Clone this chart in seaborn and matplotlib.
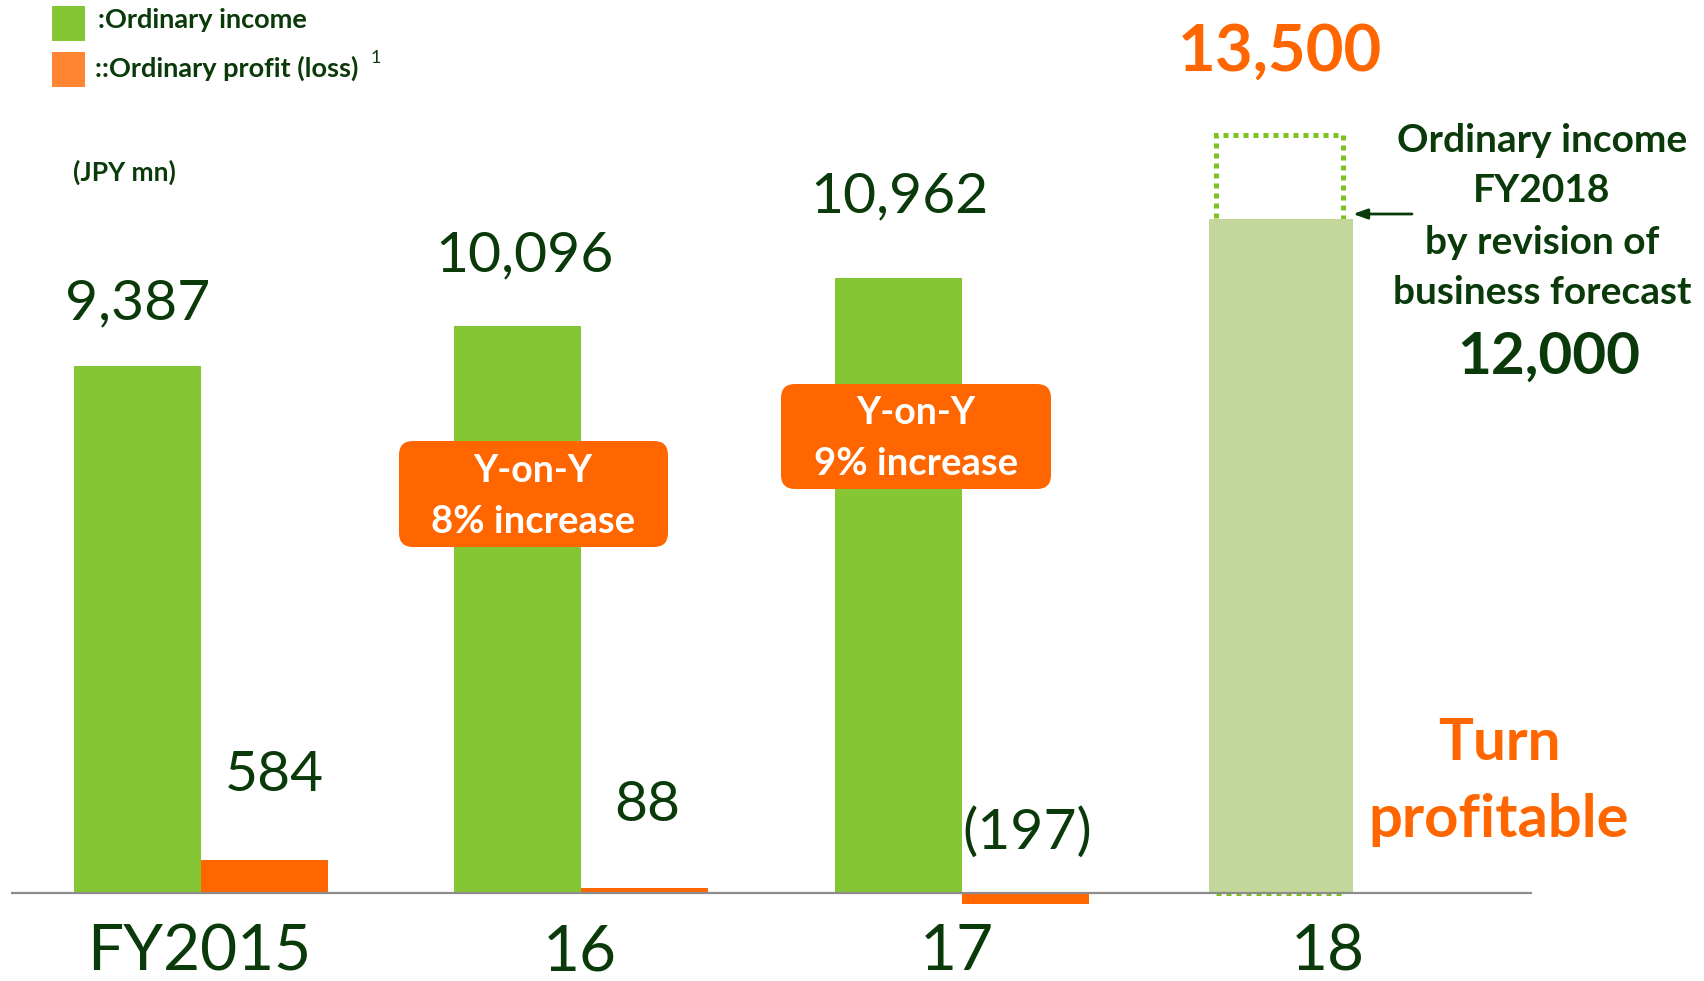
import matplotlib
matplotlib.use("Agg")
import matplotlib.pyplot as plt
from matplotlib.patches import FancyBboxPatch, Rectangle
from matplotlib.transforms import IdentityTransform
import seaborn as sns
import pandas as pd

# ---------------- data ----------------
years = ["FY2015", "16", "17", "18"]
income = [9387, 10096, 10962]          # ordinary income FY2015-17
profit = [584, 88, -197]               # ordinary profit (loss) FY2015-17
income_labels = ["9,387", "10,096", "10,962"]
profit_labels = ["584", "88", "(197)"]
fy18_original_forecast = 13500
fy18_revised_forecast = 12000
yoy_texts = ["Y-on-Y\n8% increase", "Y-on-Y\n9% increase"]

series_income = "Ordinary income"
series_profit = "Ordinary profit (loss)"

df = pd.DataFrame({
    "year": years[:3] * 2,
    "value": income + profit,
    "series": [series_income] * 3 + [series_profit] * 3,
})

# ---------------- style ----------------
W, H = 1704, 981
DARK = "#0A3A0A"
GREEN = "#84C634"
ORANGE = "#FF6600"
LEGEND_ORANGE = "#FF8533"
LIGHT = "#C4D79B"
FONT = "Lato"

sns.set_theme(style="white")
plt.rcParams["font.family"] = [FONT, "DejaVu Sans"]

fig = plt.figure(figsize=(W / 100, H / 100), dpi=100)
ax = fig.add_axes([11 / W, 0, 1521 / W, 1])

sns.barplot(data=df, x="year", y="value", hue="series", order=years,
            hue_order=[series_income, series_profit],
            palette={series_income: GREEN, series_profit: ORANGE},
            saturation=1, width=0.668, linewidth=0, legend=False, ax=ax)

# FY2018: original forecast (dotted outline) and revised forecast (light bar)
ax.bar(2.836, fy18_original_forecast, width=0.334, fill=False,
       edgecolor="#7DC21E", linewidth=3.6, linestyle=(0, (1, 1)), zorder=1)
ax.bar(2.84, fy18_revised_forecast, width=0.38, color=LIGHT, linewidth=0, zorder=2)

ax.set_xlim(-0.5, 3.5)
ax.set_ylim(-1567, 15906)
ax.axis("off")
ax.axhline(0, color="#8C8C8C", linewidth=1.6, zorder=5)


def ann(text, xy, off, **kw):
    ax.annotate(text, xy=xy, xytext=off, textcoords="offset pixels",
                ha="center", va="center", annotation_clip=False, **kw)


# value labels
inc_off = [(0, 62), (7, 70), (1, 81)]
prof_off = [(10, 85), (2, 83), (2, 60)]
for i in range(3):
    ann(income_labels[i], (i - 0.167, income[i]), inc_off[i],
        fontsize=41, color=DARK)
    ann(profit_labels[i], (i + 0.167, max(profit[i], 0)), prof_off[i],
        fontsize=41, color=DARK)

# category labels
x_adj = [-2, -2, -5, -14]
for i, lab in enumerate(years):
    ann(lab, (i, 0), (x_adj[i], -59), fontsize=46, color=DARK)

# FY2018 labels
ann(f"{fy18_original_forecast:,}", (2.836, fy18_original_forecast), (0, 83),
    fontsize=47, color=ORANGE, fontweight="bold")


def ftext(x, y, s, **kw):
    fig.text(x / W, 1 - y / H, s, **kw)


for y, line in zip([141, 191, 242, 293],
                   ["Ordinary income", "FY2018", "by revision of", "business forecast"]):
    ftext(1542, y, line, ha="center", va="center", fontsize=28,
          fontweight="bold", color=DARK)
ftext(1549, 357, f"{fy18_revised_forecast:,}", ha="center", va="center",
      fontsize=42, fontweight="bold", color=DARK)

ax.annotate("", xy=(1353, H - 214), xytext=(1412, H - 214),
            xycoords=IdentityTransform(), textcoords=IdentityTransform(),
            arrowprops=dict(arrowstyle="-|>,head_length=0.7,head_width=0.25",
                            color=DARK, lw=2, shrinkA=0, shrinkB=0))

ftext(1499, 744, "Turn", ha="center", va="center", fontsize=42,
      fontweight="bold", color=ORANGE)
ftext(1499, 820, "profitable", ha="center", va="center", fontsize=43,
      fontweight="bold", color=ORANGE)

# Y-on-Y boxes
boxes = [(399, 441, 269, 106, 533, 471, 522), (781, 384, 270, 105, 916, 413, 464)]
for (x0, y0, w, h, cx, l1, l2), txt in zip(boxes, yoy_texts):
    p = FancyBboxPatch((x0, H - y0 - h), w, h,
                       boxstyle="round,pad=0,rounding_size=14",
                       transform=IdentityTransform(), facecolor=ORANGE,
                       edgecolor="none", zorder=6)
    fig.patches.append(p)
    a, b = txt.split("\n")
    ftext(cx, l1, a, ha="center", va="center", fontsize=27,
          fontweight="bold", color="white", zorder=7)
    ftext(cx, l2, b, ha="center", va="center", fontsize=27.5,
          fontweight="bold", color="white", zorder=7)

# legend
fig.patches.append(Rectangle((52, H - 41), 33, 35, transform=IdentityTransform(),
                             facecolor=GREEN, edgecolor="none"))
fig.patches.append(Rectangle((52, H - 87), 33, 35, transform=IdentityTransform(),
                             facecolor=LEGEND_ORANGE, edgecolor="none"))
ftext(98, 20, ":" + series_income, ha="left", va="center", fontsize=19.5,
      fontweight="bold", color=DARK)
ftext(95, 68, "::" + series_profit, ha="left", va="center", fontsize=19.5,
      fontweight="bold", color=DARK)
ftext(371, 58, "1", ha="left", va="center", fontsize=13, color=DARK)
ftext(73, 172, "(JPY mn)", ha="left", va="center", fontsize=19,
      fontweight="bold", color=DARK)

fig.savefig("out.png", dpi=100, facecolor="white")
